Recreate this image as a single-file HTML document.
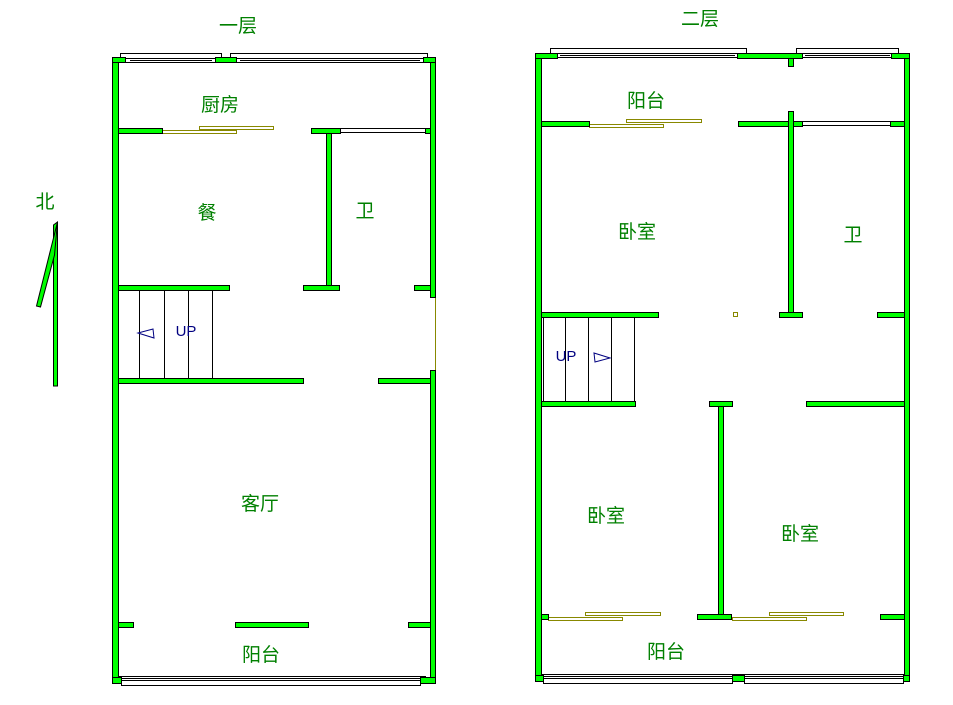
<!DOCTYPE html>
<html><head><meta charset="utf-8"><style>
html,body{margin:0;padding:0;background:#fff;}
svg{display:block}
text{font-family:"Liberation Sans","Noto Sans CJK SC",sans-serif;}
</style></head><body>
<svg width="953" height="705" viewBox="0 0 953 705" xmlns="http://www.w3.org/2000/svg">
<g fill="#fff" stroke="#000" stroke-width="1">
  <!-- left top window frames -->
  <rect x="120.5" y="53.5" width="101" height="5"/>
  <rect x="230.5" y="53.5" width="197" height="5"/>
  <rect x="125.5" y="58.5" width="90" height="4"/>
  <line x1="130" y1="60.5" x2="212" y2="60.5"/>
  <rect x="236.5" y="58.5" width="187" height="4"/>
  <line x1="240" y1="60.5" x2="420" y2="60.5"/>
  <!-- left bottom window -->
  <rect x="121.5" y="680.5" width="299" height="5"/>
  <rect x="118.5" y="676.5" width="307" height="4"/>
  <line x1="120" y1="678.5" x2="425" y2="678.5"/>
  <!-- right top window frames -->
  <rect x="550.5" y="48.5" width="196" height="5"/>
  <rect x="796.5" y="48.5" width="102" height="5"/>
  <rect x="557.5" y="53.5" width="180" height="4"/>
  <line x1="560" y1="55.5" x2="735" y2="55.5"/>
  <rect x="802.5" y="53.5" width="89" height="4"/>
  <line x1="805" y1="55.5" x2="890" y2="55.5"/>
  <!-- right bottom window -->
  <rect x="543.5" y="678.5" width="189" height="5"/>
  <rect x="744.5" y="678.5" width="159" height="5"/>
  <rect x="541.5" y="674.5" width="363" height="4"/>
  <line x1="543" y1="676.5" x2="903" y2="676.5"/>
  <!-- interior windows -->
  <rect x="340.5" y="128.5" width="85" height="4"/>
  <rect x="802.5" y="121.5" width="88" height="4"/>
</g>
<g fill="none" stroke="#888800" stroke-width="1">
  <rect x="162.5" y="130.5" width="74" height="3"/>
  <rect x="199.5" y="126.5" width="74" height="3"/>
  <rect x="589.5" y="124.5" width="74" height="3"/>
  <rect x="626.5" y="119.5" width="75" height="3"/>
  <rect x="548.5" y="617.5" width="74" height="3"/>
  <rect x="585.5" y="612.5" width="75" height="3"/>
  <rect x="732.5" y="617.5" width="74" height="3"/>
  <rect x="769.5" y="612.5" width="74" height="3"/>
  <line x1="435.5" y1="297" x2="435.5" y2="370"/>
  <rect x="733.5" y="312.5" width="4" height="4"/>
</g>
<g fill="#00ff00" stroke="#000" stroke-width="1">
  <!-- LEFT PLAN -->
  <rect x="112.5" y="57.5" width="6" height="626"/>
  <rect x="430.5" y="57.5" width="5" height="240"/>
  <rect x="430.5" y="370.5" width="5" height="313"/>
  <rect x="112.5" y="57.5" width="13" height="5"/>
  <rect x="215.5" y="57.5" width="21" height="5"/>
  <rect x="423.5" y="57.5" width="12" height="5"/>
  <rect x="112.5" y="677.5" width="9" height="6"/>
  <rect x="420.5" y="677.5" width="15" height="6"/>
  <rect x="118.5" y="128.5" width="44" height="5"/>
  <rect x="311.5" y="128.5" width="29" height="5"/>
  <rect x="425.5" y="128.5" width="5" height="5"/>
  <rect x="326.5" y="133.5" width="5" height="152"/>
  <rect x="118.5" y="285.5" width="111" height="5"/>
  <rect x="303.5" y="285.5" width="36" height="5"/>
  <rect x="414.5" y="285.5" width="16" height="5"/>
  <rect x="118.5" y="378.5" width="185" height="5"/>
  <rect x="378.5" y="378.5" width="52" height="5"/>
  <rect x="118.5" y="622.5" width="15" height="5"/>
  <rect x="235.5" y="622.5" width="73" height="5"/>
  <rect x="408.5" y="622.5" width="22" height="5"/>
  <!-- RIGHT PLAN -->
  <rect x="535.5" y="53.5" width="6" height="628"/>
  <rect x="904.5" y="53.5" width="5" height="628"/>
  <rect x="535.5" y="53.5" width="22" height="5"/>
  <rect x="737.5" y="53.5" width="65" height="5"/>
  <rect x="891.5" y="53.5" width="18" height="5"/>
  <rect x="788.5" y="58.5" width="5" height="8"/>
  <rect x="535.5" y="675.5" width="8" height="6"/>
  <rect x="732.5" y="675.5" width="12" height="6"/>
  <rect x="903.5" y="675.5" width="6" height="6"/>
  <rect x="541.5" y="121.5" width="48" height="5"/>
  <rect x="738.5" y="121.5" width="64" height="5"/>
  <rect x="890.5" y="121.5" width="14" height="5"/>
  <rect x="788.5" y="111.5" width="5" height="201"/>
  <rect x="541.5" y="312.5" width="117" height="5"/>
  <rect x="779.5" y="312.5" width="23" height="5"/>
  <rect x="877.5" y="312.5" width="27" height="5"/>
  <rect x="541.5" y="401.5" width="94" height="5"/>
  <rect x="709.5" y="401.5" width="23" height="5"/>
  <rect x="718.5" y="406.5" width="5" height="208"/>
  <rect x="806.5" y="401.5" width="98" height="5"/>
  <rect x="541.5" y="614.5" width="7" height="5"/>
  <rect x="697.5" y="614.5" width="34" height="5"/>
  <rect x="880.5" y="614.5" width="24" height="5"/>
  <!-- north arrow -->
  <polygon points="53.5,225 53.5,386 57.5,386 57.5,222" />
  <polygon points="57.5,222 36.5,306 40.5,307 54.5,255"/>
</g>
<g stroke="#000" stroke-width="1" fill="none">
  <line x1="139.5" y1="290" x2="139.5" y2="378"/>
  <line x1="164.5" y1="290" x2="164.5" y2="378"/>
  <line x1="188.5" y1="290" x2="188.5" y2="378"/>
  <line x1="212.5" y1="290" x2="212.5" y2="378"/>
  <line x1="543.5" y1="317" x2="543.5" y2="401"/>
  <line x1="565.5" y1="317" x2="565.5" y2="401"/>
  <line x1="588.5" y1="317" x2="588.5" y2="401"/>
  <line x1="611.5" y1="317" x2="611.5" y2="401"/>
  <line x1="634.5" y1="317" x2="634.5" y2="401"/>
</g>
<g stroke="#000080" stroke-width="1" fill="none">
  <polygon points="138,333 153,329 154,338"/>
  <polygon points="594,353 610,358 595,362"/>
</g>
<g fill="#008000" font-size="19" text-anchor="middle">
  <text x="238" y="32">一层</text>
  <text x="700" y="25">二层</text>
  <text x="220" y="111">厨房</text>
  <text x="207" y="219">餐</text>
  <text x="365" y="217">卫</text>
  <text x="260" y="510">客厅</text>
  <text x="261" y="661">阳台</text>
  <text x="45" y="208">北</text>
  <text x="646" y="107">阳台</text>
  <text x="637" y="238">卧室</text>
  <text x="853" y="241">卫</text>
  <text x="606" y="522">卧室</text>
  <text x="800" y="540">卧室</text>
  <text x="666" y="658">阳台</text>
</g>
<g fill="#000080" font-size="15" text-anchor="middle">
  <text x="186" y="336">UP</text>
  <text x="566" y="361">UP</text>
</g>
</svg>
</body></html>
